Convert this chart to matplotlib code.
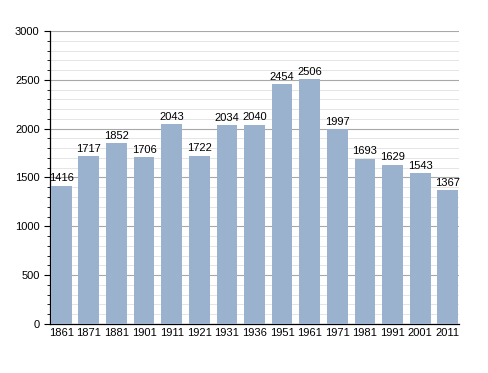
import matplotlib
matplotlib.use("Agg")
import matplotlib.pyplot as plt
from matplotlib.ticker import MultipleLocator

years = ["1861", "1871", "1881", "1901", "1911", "1921", "1931", "1936",
         "1951", "1961", "1971", "1981", "1991", "2001", "2011"]
population = [1416, 1717, 1852, 1706, 2043, 1722, 2034, 2040,
              2454, 2506, 1997, 1693, 1629, 1543, 1367]

plt.rcParams["font.family"] = ["Liberation Sans", "DejaVu Sans"]

fig = plt.figure(figsize=(4.88, 3.73), dpi=100)
ax = fig.add_axes([0.1025, 0.1314, 0.838, 0.7855])

w = 0.75
x = range(len(years))
ax.bar(x, population, width=w, color="#9ab2ce", zorder=3)
for i, v in zip(x, population):
    ax.text(i, v + 25, str(v), ha="center", va="bottom", fontsize=8, zorder=4)

ax.set_xlim(-w / 2 - 0.03, len(years) - 1 + w / 2 + 0.03)
ax.set_ylim(0, 3000)
ax.set_xticks(list(x), years, fontsize=8)
ax.yaxis.set_major_locator(MultipleLocator(500))
ax.yaxis.set_minor_locator(MultipleLocator(100))
ax.tick_params(axis="y", labelsize=8, length=4, width=0.8)
ax.tick_params(axis="y", which="minor", length=2.5, width=0.6)
ax.tick_params(axis="x", length=0, pad=3)
ax.grid(axis="y", which="major", color="#a8a8a8", lw=0.8, zorder=1)
ax.grid(axis="y", which="minor", color="#e0e0e0", lw=0.6, zorder=0)
for s in ("top", "right"):
    ax.spines[s].set_visible(False)
ax.spines["left"].set_linewidth(0.9)
ax.spines["bottom"].set_linewidth(0.9)

fig.savefig("out.png", dpi=100)
